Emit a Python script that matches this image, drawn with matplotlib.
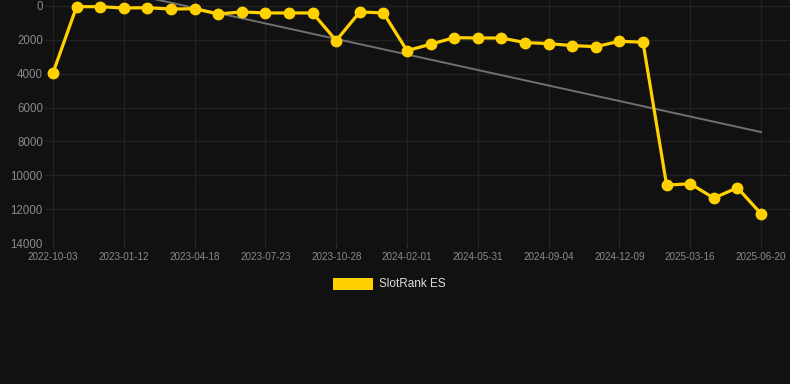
import numpy as np
import matplotlib
matplotlib.use("Agg")
import matplotlib.pyplot as plt
from matplotlib.patches import Rectangle

dates = ["2022-10-03", "2022-11-05", "2022-12-09", "2023-01-12", "2023-02-15", "2023-03-17",
         "2023-04-18", "2023-05-20", "2023-06-21", "2023-07-23", "2023-08-24", "2023-09-26",
         "2023-10-28", "2023-11-29", "2023-12-31", "2024-02-01", "2024-03-12", "2024-04-21",
         "2024-05-31", "2024-07-02", "2024-08-03", "2024-09-04", "2024-10-06", "2024-11-07",
         "2024-12-09", "2025-01-10", "2025-02-12", "2025-03-16", "2025-04-17", "2025-05-19",
         "2025-06-20"]
rank = [3950, 40, 40, 120, 100, 180, 160, 470, 350, 410, 410, 410, 2045, 350, 410,
        2635, 2260, 1870, 1890, 1890, 2160, 2220, 2340, 2400, 2085, 2140,
        10580, 10500, 11345, 10735, 12270]
yticks = [0, 2000, 4000, 6000, 8000, 10000, 12000, 14000]
series_name = "SlotRank ES"

BG = "#111111"
GOLD = "#FFD100"
TXT = "#8a8a8a"
GRID = "#212121"

W, H = 790, 384
fig = plt.figure(figsize=(W / 100, H / 100), dpi=100, facecolor=BG)
ax = fig.add_axes([45 / W, 141 / H, 1 - 45 / W, 243 / H])
ax.set_facecolor(BG)

x = np.arange(len(rank))
# trend line (linear regression)
coef = np.polyfit(x, rank, 1)
ax.plot([x[0], x[-1]], np.polyval(coef, [x[0], x[-1]]), color="#707070", lw=1.4, zorder=2)
ax.plot(x, rank, color=GOLD, lw=2.3, marker="o", markersize=7.5, zorder=3)

step = 708 / 30
ax.set_xlim(-(53 - 45) / step, (790 - 53) / step)
px_per_unit = (243 - 6) / 14000
ax.set_ylim(14000, -6 / px_per_unit)

ax.set_yticks(yticks)
ax.set_yticklabels([str(v) for v in yticks])
lab_idx = list(range(0, len(dates), 3))
ax.set_xticks(lab_idx)
ax.set_xticklabels([dates[i] for i in lab_idx])

ax.tick_params(axis="y", length=0, pad=1.5, labelsize=8.3, labelcolor=TXT)
ax.tick_params(axis="x", length=3.6, width=0.8, color="#2e2e2e", pad=3, labelsize=7.1, labelcolor=TXT)
for lab in ax.get_xticklabels() + ax.get_yticklabels():
    lab.set_fontfamily("Liberation Sans")

ax.grid(True, color=GRID, lw=1.0)
ax.set_axisbelow(True)
for s in ax.spines.values():
    s.set_visible(False)

# legend
fig.patches.append(Rectangle((333 / W, 1 - 290 / H), 40 / W, 12 / H, transform=fig.transFigure,
                             facecolor=GOLD, edgecolor="none"))
fig.text(379 / W, 1 - 284 / H, series_name, color="#dddddd", fontsize=8.5,
         fontfamily="Liberation Sans", va="center", ha="left")

fig.savefig("out.png", dpi=100, facecolor=BG)
